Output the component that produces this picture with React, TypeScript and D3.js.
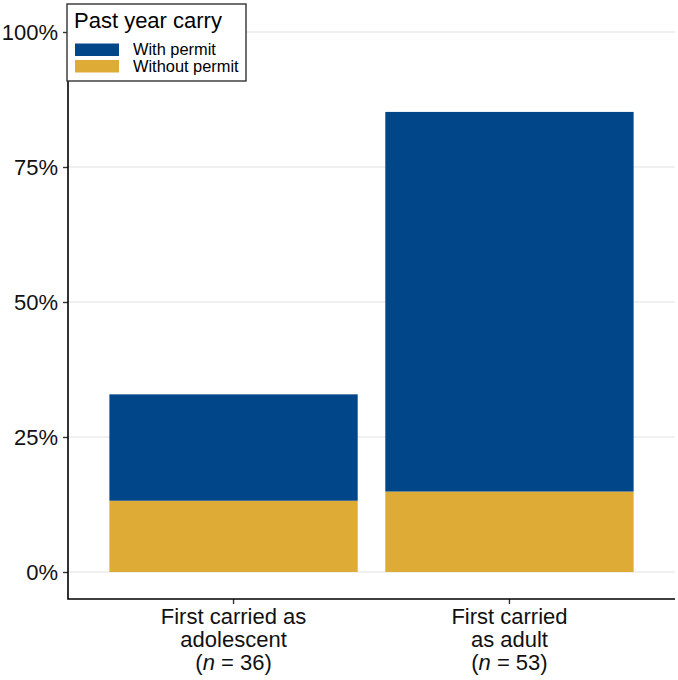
import React, { useEffect, useRef } from 'react';
import * as d3 from 'd3';

const categories = ['adolescent', 'adult'];
const labelLines = [
  ['First carried as', 'adolescent', '36'],
  ['First carried', 'as adult', '53'],
];
const withoutPermit = [13.2, 14.9];
const withPermit = [19.7, 70.3];
const seriesNames = ['With permit', 'Without permit'];
const seriesColors = ['#02468a', '#deab37'];
const yTicks = [0, 25, 50, 75, 100];

const W = 678;
const H = 680;
const FONT = '"Liberation Sans", Arial, Helvetica, sans-serif';

const App: React.FC = () => {
  const ref = useRef<SVGSVGElement | null>(null);

  useEffect(() => {
    const svg = d3.select(ref.current!);
    svg.selectAll('*').remove();

    const margin = { top: 32, right: 3, bottom: 108, left: 68 };
    const panelBottom = 599;

    // y scale: 0% at 572, 100% at 32
    const y = d3.scaleLinear().domain([0, 100]).range([572, 32]);

    // discrete x, bar width 0.9, 0.6 unit expansion on each side
    const x = d3
      .scaleBand<string>()
      .domain(categories)
      .range([margin.left, W - margin.right])
      .paddingInner(0.1)
      .paddingOuter(0.15);

    const g = svg.append('g');

    // gridlines
    g.selectAll('.grid')
      .data(yTicks)
      .enter()
      .append('line')
      .attr('x1', margin.left)
      .attr('x2', W - margin.right)
      .attr('y1', (d) => y(d))
      .attr('y2', (d) => y(d))
      .attr('stroke', '#ebebeb')
      .attr('stroke-width', 1.6);

    // stacked bars
    const rows = categories.map((c, i) => ({
      cat: c,
      without: withoutPermit[i],
      with: withPermit[i],
    }));
    const stack = d3.stack<any>().keys(['without', 'with'])(rows);
    const colorOf: Record<string, string> = {
      without: seriesColors[1],
      with: seriesColors[0],
    };

    stack.forEach((layer) => {
      g.selectAll(null)
        .data(layer)
        .enter()
        .append('rect')
        .attr('x', (d: any) => x(d.data.cat) as number)
        .attr('width', x.bandwidth())
        .attr('y', (d) => y(d[1]))
        .attr('height', (d) => y(d[0]) - y(d[1]))
        .attr('fill', colorOf[layer.key]);
    });

    // axes
    const yAxis = g
      .append('g')
      .attr('transform', `translate(${margin.left},0)`)
      .call(
        d3
          .axisLeft(y)
          .tickValues(yTicks)
          .tickFormat((d) => `${d}%`)
          .tickSize(5)
          .tickPadding(5)
      );
    yAxis.select('.domain').remove();
    yAxis.selectAll('.tick line').attr('stroke', '#333').attr('stroke-width', 1.4);
    yAxis
      .selectAll('.tick text')
      .attr('font-family', FONT)
      .attr('font-size', 22)
      .attr('fill', '#111');

    const xAxis = g
      .append('g')
      .attr('transform', `translate(0,${panelBottom})`)
      .call(d3.axisBottom(x).tickSize(5).tickFormat(() => ''));
    xAxis.select('.domain').remove();
    xAxis.selectAll('.tick line').attr('stroke', '#333').attr('stroke-width', 1.4);

    // axis lines
    g.append('path')
      .attr('d', `M${margin.left},${12}V${panelBottom}H${W - margin.right}`)
      .attr('fill', 'none')
      .attr('stroke', '#000')
      .attr('stroke-width', 1.6);

    // x labels
    categories.forEach((c, i) => {
      const cx = (x(c) as number) + x.bandwidth() / 2;
      const t = g
        .append('text')
        .attr('text-anchor', 'middle')
        .attr('font-family', FONT)
        .attr('font-size', 22)
        .attr('fill', '#111');
      t.append('tspan').attr('x', cx).attr('y', 624).text(labelLines[i][0]);
      t.append('tspan').attr('x', cx).attr('y', 647).text(labelLines[i][1]);
      const t3 = t.append('tspan').attr('x', cx).attr('y', 670);
      t3.append('tspan').text('(');
      t3.append('tspan').attr('font-style', 'italic').text('n');
      t3.append('tspan').text(` = ${labelLines[i][2]})`);
    });

    // legend
    const lg = svg.append('g');
    lg.append('rect')
      .attr('x', 67)
      .attr('y', 4)
      .attr('width', 179)
      .attr('height', 77)
      .attr('fill', '#fff')
      .attr('stroke', '#333')
      .attr('stroke-width', 1.4);
    lg.append('text')
      .attr('x', 74)
      .attr('y', 28)
      .attr('font-family', FONT)
      .attr('font-size', 22)
      .attr('fill', '#000')
      .text('Past year carry');
    seriesNames.forEach((s, i) => {
      lg.append('rect')
        .attr('x', 75)
        .attr('y', 43.5 + i * 16.5)
        .attr('width', 44)
        .attr('height', 12.5)
        .attr('fill', seriesColors[i]);
      lg.append('text')
        .attr('x', 133)
        .attr('y', 55 + i * 16.8)
        .attr('font-family', FONT)
        .attr('font-size', 16.4)
        .attr('fill', '#000')
        .text(s);
    });
  }, []);

  return (
    <div style={{ position: 'absolute', left: 0, top: 0 }}>
      <svg ref={ref} width={W} height={H} style={{ display: 'block', background: '#fff' }} />
    </div>
  );
};

export default App;
